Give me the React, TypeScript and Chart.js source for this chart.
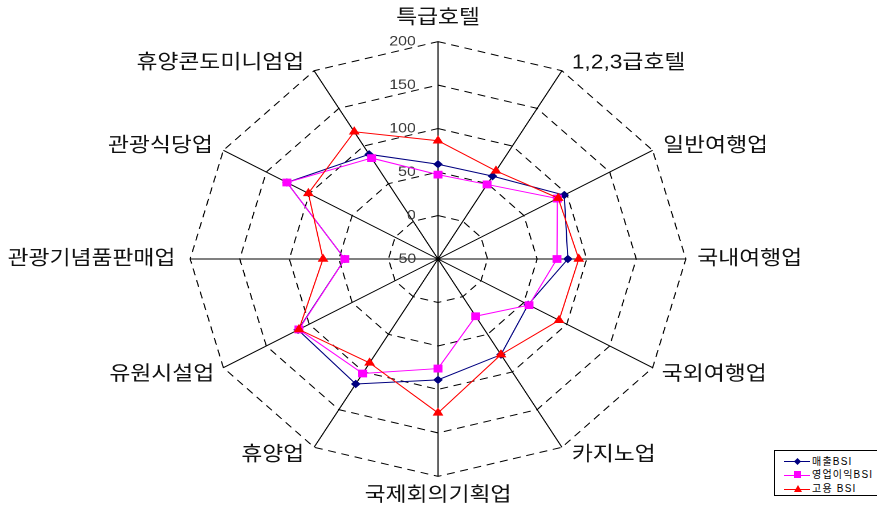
import React, { useEffect, useRef } from 'react';
import { Chart, registerables } from 'chart.js';

Chart.register(...registerables);

// ---- data ----
const categories = [
  '특급호텔',
  '1,2,3급호텔',
  '일반여행업',
  '국내여행업',
  '국외여행업',
  '카지노업',
  '국제회의기획업',
  '휴양업',
  '유원시설업',
  '관광기념품판매업',
  '관광식당업',
  '휴양콘도미니엄업',
];
const seriesNames = ['매출BSI', '영업이익BSI', '고용 BSI'];
const salesBSI = [59, 60, 97, 81, 55, 77, 89, 116, 113, 44, 126, 89];
const profitBSI = [47, 49, 89, 70, 56, 26, 76, 102, 112, 44, 126, 84];
const employBSI = [86, 67, 90, 92, 91, 77, 127, 88, 112, 66, 101, 119];
const tickMin = -50;
const tickMax = 200;
const tickStep = 50;

// ---- layout (not data) ----
const SX = 1.14; // horizontal stretch of the original picture
const labelPad = [2.6, -14, -24, 1, -19, -14, -2, -14, -19, 4, -24, -14];
const labelSpaces = [0, 2, 4, 0, 3, 2, 0, 2, 3, 0, 4, 2];
const LABEL_FONT = '"Liberation Sans", "Noto Sans CJK KR", sans-serif';
const TICK_FONT = '"Liberation Sans", Arial, sans-serif';
const TICK_RIGHT = 18.5; // px left of axis where tick text ends

const measureCtx = (() => {
  const c = document.createElement('canvas');
  return c.getContext('2d') as CanvasRenderingContext2D;
})();

function tickLabel(v: number): string {
  const s = String(v);
  measureCtx.font = `14px ${TICK_FONT}`;
  const w = measureCtx.measureText(s).width;
  const sw = measureCtx.measureText(' ').width || 3.9;
  const n = Math.max(0, Math.round((2 * (w + TICK_RIGHT) - w) / sw));
  return s + ' '.repeat(n);
}

function pointLabel(label: string, i: number): string {
  const sp = ' '.repeat(labelSpaces[i] || 0);
  if (i > 0 && i < 6) return sp + label;
  if (i > 6) return label + sp;
  return label;
}

export default function App() {
  const ref = useRef<HTMLCanvasElement | null>(null);

  useEffect(() => {
    if (!ref.current) return;
    const chart = new Chart(ref.current, {
      type: 'radar',
      data: {
        labels: categories,
        datasets: [
          {
            label: seriesNames[0],
            data: salesBSI,
            borderColor: '#000080',
            backgroundColor: '#000080',
            borderWidth: 1,
            pointStyle: 'rectRot',
            pointRadius: 3.5,
            pointBorderWidth: 1,
            fill: false,
            order: 2,
          },
          {
            label: seriesNames[1],
            data: profitBSI,
            borderColor: '#FF00FF',
            backgroundColor: '#FF00FF',
            borderWidth: 1,
            pointStyle: 'rect',
            pointRadius: 4.8,
            pointBorderWidth: 1,
            fill: false,
            order: 1,
          },
          {
            label: seriesNames[2],
            data: employBSI,
            borderColor: '#FF0000',
            backgroundColor: '#FF0000',
            borderWidth: 1,
            pointStyle: 'triangle',
            pointRadius: 4.5,
            pointBorderWidth: 1,
            fill: false,
            order: 0,
          },
        ],
      },
      options: {
        animation: false,
        responsive: true,
        maintainAspectRatio: false,
        devicePixelRatio: 2,
        layout: { padding: 0 },
        plugins: {
          legend: { display: false },
          tooltip: { enabled: false },
          title: { display: false },
        },
        scales: {
          r: {
            min: tickMin,
            max: tickMax,
            startAngle: 0,
            ticks: {
              stepSize: tickStep,
              color: '#3a3a3a',
              font: { family: TICK_FONT, size: 14 },
              showLabelBackdrop: false,
              backdropPadding: 2,
              callback: (v: any) => tickLabel(Number(v)),
            },
            grid: { color: '#000', lineWidth: 1, circular: false },
            border: { dash: [7, 5] },
            angleLines: { display: true, color: '#000', lineWidth: 1 },
            pointLabels: {
              display: true,
              color: '#111',
              font: { family: LABEL_FONT, size: 20 },
              padding: (c: any) => labelPad[c.index] ?? 0,
              callback: (label: string, i: number) => pointLabel(label, i),
            },
          } as any,
        },
      },
    });
    return () => chart.destroy();
  }, []);

  const rowTops = [3.7, 17.3, 31.3];
  const markers = [
    <span key="d" style={{ position: 'absolute', left: 20, top: 4, width: 5, height: 5, background: '#000080', transform: 'rotate(45deg)' }} />,
    <span key="s" style={{ position: 'absolute', left: 19, top: 3, width: 7, height: 7, background: '#FF00FF' }} />,
    <span key="t" style={{ position: 'absolute', left: 18.5, top: 2.5, width: 0, height: 0, borderLeft: '4px solid transparent', borderRight: '4px solid transparent', borderBottom: '7px solid #FF0000' }} />,
  ];
  const lineColors = ['#000080', '#FF00FF', '#FF0000'];

  return (
    <div style={{ position: 'fixed', left: 0, top: 0, width: 877, height: 514, overflow: 'hidden', background: '#fff' }}>
      <div
        style={{
          position: 'absolute',
          left: -75,
          top: 4,
          width: 900,
          height: 506,
          transform: `scaleX(${SX})`,
          transformOrigin: '0 0',
        }}
      >
        <canvas ref={ref} />
      </div>
      <div
        style={{
          position: 'absolute',
          left: 774,
          top: 450,
          width: 110,
          height: 46,
          boxSizing: 'border-box',
          border: '1px solid #000',
          background: '#fff',
          fontFamily: LABEL_FONT,
          fontSize: 10,
          letterSpacing: '1.2px',
          color: '#000',
        }}
      >
        {seriesNames.map((n, i) => (
          <div key={n} style={{ position: 'absolute', left: 0, top: rowTops[i], height: 14, width: 110 }}>
            <span style={{ position: 'absolute', left: 9, top: 6.5, width: 26, height: 1, background: lineColors[i] }} />
            {markers[i]}
            <span style={{ position: 'absolute', left: 37, top: 0, lineHeight: '14px', whiteSpace: 'pre' }}>{n}</span>
          </div>
        ))}
      </div>
    </div>
  );
}
